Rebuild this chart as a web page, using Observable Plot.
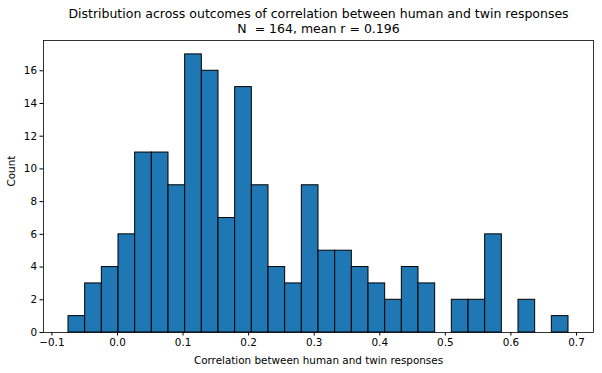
<!DOCTYPE html>
<html>
<head>
<meta charset="utf-8">
<script src="https://cdn.jsdelivr.net/npm/d3@7"></script>
<script src="https://cdn.jsdelivr.net/npm/@observablehq/plot@0.6"></script>
<style>
  html, body { margin: 0; padding: 0; background: #fff; }
  svg text { white-space: pre; }
</style>
</head>
<body>
<div id="chart"></div>
<script>
const title = "Distribution across outcomes of correlation between human and twin responses";
const subtitle = "N  = 164, mean r = 0.196";
const xLabel = "Correlation between human and twin responses";
const yLabel = "Count";
const counts = [1,3,4,6,11,11,9,17,16,7,15,9,4,3,9,5,5,4,3,2,4,3,0,2,2,6,0,2,0,1];
const binMin = -0.0747;
const binMax = 0.6878;
const xTicks = [-0.1,0.0,0.1,0.2,0.3,0.4,0.5,0.6,0.7];
const yTicks = [0,2,4,6,8,10,12,14,16];

const w = (binMax - binMin) / counts.length;
const bins = counts.map((c, i) => ({x1: binMin + i * w, x2: binMin + (i + 1) * w, count: c})).filter(d => d.count > 0);
const pad = (binMax - binMin) * 0.05;
const ymax = d3.max(counts) * 1.05;

const chart = Plot.plot({
  width: 602,
  height: 373,
  marginTop: 40,
  marginLeft: 43,
  marginRight: 9,
  marginBottom: 41,
  style: {fontFamily: "DejaVu Sans", fontSize: "10.4px", color: "#000", background: "#fff"},
  x: {domain: [binMin - pad, binMax + pad], label: null},
  y: {domain: [0, ymax], label: null},
  marks: [
    Plot.rectY(bins, {x1: "x1", x2: "x2", y: "count", fill: "#1f77b4", stroke: "#000", strokeWidth: 1, inset: 0}),
    Plot.frame({stroke: "#000", strokeWidth: 0.8}),
    Plot.axisX({ticks: xTicks, tickFormat: d3.format(".1f"), tickSize: 3.5, tickPadding: 3, label: null, fontSize: 10.4}),
    Plot.axisY({ticks: yTicks, tickFormat: d3.format("d"), tickSize: 3.5, tickPadding: 3, label: null, fontSize: 10.4}),
    Plot.text([xLabel], {text: d => d, frameAnchor: "bottom", lineAnchor: "middle", dy: 28, fontSize: 10.4}),
    Plot.text([yLabel], {text: d => d, frameAnchor: "left", rotate: -90, dx: -32, fontSize: 10.4}),
    Plot.text([title], {text: d => d, frameAnchor: "top", lineAnchor: "middle", dy: -27, fontSize: 12.5}),
    Plot.text([subtitle], {text: d => d, frameAnchor: "top", lineAnchor: "middle", dy: -12, fontSize: 12.5})
  ]
});
document.getElementById("chart").appendChild(chart);
</script>
</body>
</html>
